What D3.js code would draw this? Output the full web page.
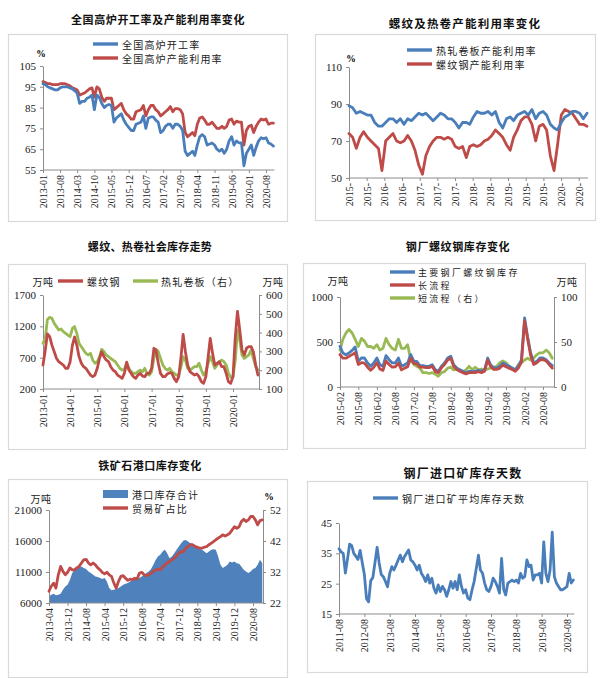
<!DOCTYPE html>
<html><head><meta charset="utf-8">
<script src="https://cdn.jsdelivr.net/npm/d3@7"></script>
<style>body{margin:0;background:#fff}</style>
</head><body>
<script>
// ---------- DATA ----------
// Panel 1: 全国高炉开工率 / 产能利用率 (monthly from 2013-01)
const p1Start = [2013, 0];
const p1Ticks = ["2013-01","2013-08","2014-03","2014-10","2015-05","2015-12","2016-07","2017-02","2017-09","2018-04","2018-11","2019-06","2020-01","2020-08"];
const p1Util = [96.5,96,95,94.5,94,93.5,93.5,94.5,95,95,95,94.5,
  94,93,92,87,88,88,89.5,90,91,84,91,90,
  87,85,86,86.5,86,78,80,81,82,79,77,75.5,
  74,74,77,77.5,78,81,75,80,80.5,80.5,79,78,
  73,74,76,77,77,75,77,77,76,74,64,62,
  63,64,62,67,71,72,71,67,67.5,68,67,65,
  64,65,63,65,69,71,67,69,68,68,57,63,
  65,67,62,66,69,70.5,70,70.5,68,67.5,66.5];
const p1Cap = [97.5,97,96.5,96.5,96,96,96,96.5,96.5,96.5,96,95.5,
  94.5,94,93.5,91,91.5,92,93,94,94.5,90,95,94,
  90,88,89.5,89.5,89.5,84,85,86,87,84,82,81,
  79.5,79.5,83,83.5,84,86,81,84,86,86,84,83,
  81,82,83,84,85.5,83,84.5,84.5,84,82,73,71,
  72,73,71.5,77,80,80.5,79,77,77,78,76.5,75,
  75,76,75,76,79,79.5,77,78.5,78,78,67,74,
  76,76.5,73,76,78,79.5,79,79.5,77,77.5,77.5];

// Panel 2: 热轧卷板 / 螺纹钢 产能利用率 (monthly from 2015-06)
const p2Start = [2015, 5];
const p2TickStepDays = 147;
const p2TickCount = 14;
const p2Hrc = [89,88,85,86,85,84,84,80,78,78,
  80,82,82,80,82,79,82,81,83,85,
  84,85,83,81,83,85,84,82,82,80,
  77,80,80,79,83,86,85,85,86,84,
  86,80,77,82,83,81,84,85,86,84,
  87,82,85,86,84,79,77,76,80,83,
  84,86,86,85,82,85];
const p2Rebar = [74,72,66,72,75,72,70,68,66,54,
  70,72,74,70,69,70,73,70,65,57,
  52,62,67,70,72,72,71,72,71,67,
  66,67,61,67,68,67,68,70,71,73,
  76,74,72,68,65,72,76,81,83,83,
  79,70,78,79,76,62,54,68,84,87,
  86,85,82,79,79,78];

// Panel 3: 社会库存 (monthly from 2013-01)
const p3Start = [2013, 0];
const p3Ticks = ["2013-01","2014-01","2015-01","2016-01","2017-01","2018-01","2019-01","2020-01"];
const p3Rebar = [583,822,1080,1035,900,795,690,636,610,583,530,530,
  636,900,1030,900,716,610,556,530,476,423,397,423,
  530,690,795,716,663,636,556,503,476,423,397,370,
  450,630,503,450,397,370,423,450,407,397,450,450,
  530,850,822,610,450,397,397,440,460,450,370,317,
  397,716,1070,795,583,476,450,423,440,397,317,290,
  397,716,1008,769,583,610,636,556,556,450,317,290,
  397,1035,1440,1141,822,743,850,876,876,795,583,423];
const p3Hrc = [343,370,470,481,476,449,432,414,419,405,396,387,
  378,423,432,396,343,325,307,290,281,290,254,237,
  245,272,311,299,281,272,263,254,245,228,210,201,
  205,237,210,192,183,183,192,201,192,210,183,174,
  192,263,311,299,263,228,210,201,210,192,183,174,
  174,219,272,254,210,201,210,219,219,237,201,174,
  192,237,272,245,210,228,245,254,245,228,183,162,
  166,254,414,361,281,263,272,281,307,263,219,201];

// Panel 4: 钢厂螺纹钢库存 (monthly from 2015-02)
const p4Start = [2015, 1];
const p4Ticks = ["2015-02","2015-08","2016-02","2016-08","2017-02","2017-08","2018-02","2018-08","2019-02","2019-08","2020-02","2020-08"];
const p4Total = [452,378,359,378,407,444,285,322,322,267,230,
  267,322,248,230,348,304,267,267,322,230,248,267,
  360,285,285,237,237,230,230,248,193,174,230,267,
  322,341,248,211,193,174,156,174,174,174,185,174,
  193,322,248,211,211,230,267,248,230,211,193,230,
  304,767,563,378,267,285,322,322,304,267,237];
const p4Long = [360,320,320,340,360,380,250,270,265,220,185,
  220,270,200,185,290,250,220,225,265,190,210,225,
  320,260,260,220,220,215,215,230,170,160,215,250,
  300,320,230,195,175,160,145,160,160,160,170,160,
  175,300,230,195,195,210,245,225,210,195,175,210,
  280,735,540,350,250,270,300,305,290,250,210];
const p4Short = [41,53,60,64,60,53,45,54,51,45,45,
  43,47,41,43,54,47,43,41,53,43,43,47,
  30,25,23,21,16,16,15,16,14,12,16,17,
  21,22,19,20,19,17,19,23,19,22,19,20,
  19,20,21,22,23,27,29,27,23,21,19,25,
  27,30,32,30,32,36,38,38,41,38,32];

// Panel 5: 铁矿石港口库存 (monthly from 2013-04)
const p5Start = [2013, 3];
const p5Ticks = ["2013-04","2013-12","2014-08","2015-04","2015-12","2016-08","2017-04","2017-12","2018-08","2019-04","2019-12","2020-08"];
const p5Port = [7070,7340,7500,7230,7340,7500,8140,8680,8950,
  9750,10820,11360,11630,11790,11890,11630,11470,11090,10820,10550,10290,
  10180,10020,9860,10020,9480,8410,8040,8140,8250,8410,8680,8950,
  9110,9210,9480,9750,10020,9860,10020,10290,10550,10820,11090,11470,
  12160,12960,13500,13770,14300,14570,14040,13230,13500,14040,14570,15110,
  15640,16070,16180,15910,15640,15480,15380,15110,14840,14570,14300,14040,
  14300,14570,14680,14570,13500,12160,11630,11890,12160,12700,12540,12700,
  12430,12320,11890,11360,11090,10820,11090,11470,11630,12160,12960,12430];
const p5Trade = [25.8,27.4,28.4,26.8,31.1,33.8,32.2,31.1,31.9,
  33.3,32.7,32.7,33.3,33.8,34.9,35.9,36.1,34.9,34.3,34.9,34.3,
  33.3,32.7,31.9,31.4,31.9,31.1,30.6,28.4,26.8,29.0,30.6,30.8,
  30.0,29.3,29.7,29.5,30.0,29.7,31.6,31.9,31.1,30.8,31.1,31.6,
  32.2,32.7,32.9,32.7,33.6,34.3,34.9,35.4,35.9,36.5,37.2,38.1,
  38.6,38.6,39.7,40.2,40.8,40.8,40.2,40.0,39.7,39.7,40.0,40.2,
  40.8,41.3,41.8,42.4,42.9,43.4,44.0,43.6,44.0,44.5,45.6,46.6,
  46.1,46.6,48.3,49.0,48.3,48.8,49.9,49.9,48.8,47.2,48.6,48.8];

// Panel 6: 钢厂进口矿平均库存天数 (monthly from 2011-08)
const p6Start = [2011, 7];
const p6Ticks = ["2011-08","2012-08","2013-08","2014-08","2015-08","2016-08","2017-08","2018-08","2019-08","2020-08"];
const p6Days = [36.5,35.5,35,28.5,33,
  38,37.5,35,34,33,36,32,28,20,19,26,27,
  32,37,32,28,27.3,25.7,24,28.4,30.6,29.5,31.1,32.8,
  34.4,32.2,33.9,35,36.1,32.8,32.2,31.1,29.5,31.1,28.4,27.3,
  25.7,27.9,25.2,26.8,23.5,21.9,24.6,22.4,24.1,23,20.8,23,
  25.7,23.5,25.7,23,27.9,24.1,21.9,23,20.2,19.7,23,25.7,
  30.1,34.4,29.5,28.4,25.2,23,22.4,24.1,26.8,25.7,24.1,21.9,
  33.3,23,21.3,25.2,25.7,26.2,25.7,26.2,25.2,28.4,26.8,27.3,
  32.8,30.6,31.1,26.2,27.9,27.9,28.4,25.2,38.8,28.4,25.7,29.5,
  42,27.3,25.2,24.1,23,23,23.5,24.1,28.4,25.2,26.2];

// ---------- STYLE ----------
const BLUE = "#4A7EBB", RED = "#BE4B48", GREEN = "#98B954", AREA = "#4F81BD";
const SERIF = "'Liberation Serif','Times New Roman',serif";
const CJK = "'Noto Sans CJK SC','Noto Sans',sans-serif";
const AXIS = "#8c8c8c";
const LW = 2.8;

const svg = d3.select("body").append("svg").attr("width", 600).attr("height", 678);
svg.append("rect").attr("width", 600).attr("height", 678).attr("fill", "#fff");

const parseYM = d3.timeParse("%Y-%m");
const monthly = (start, arr) => arr.map((v, i) => ({ d: new Date(start[0], start[1] + i, 1), v }));

function frame(x0, y0, x1, y1) {
  svg.append("rect").attr("x", x0 + 0.5).attr("y", y0 + 0.5).attr("width", x1 - x0).attr("height", y1 - y0)
    .attr("fill", "none").attr("stroke", "#d9d9d9").attr("stroke-width", 1.2);
}
function title(txt, cx, cy, size, ls) {
  svg.append("text").attr("x", cx).attr("y", cy).attr("text-anchor", "middle").attr("dominant-baseline", "central")
    .style("font-family", CJK).style("font-weight", 700).style("font-size", size + "px")
    .style("letter-spacing", ls + "px").attr("fill", "#111").text(txt);
}
function label(txt, x, y, anchor, size, ls) {
  svg.append("text").attr("x", x).attr("y", y).attr("text-anchor", anchor || "start").attr("dominant-baseline", "central")
    .style("font-family", CJK).style("font-size", (size || 10) + "px").style("letter-spacing", (ls == null ? 1.2 : ls) + "px")
    .attr("fill", "#222").text(txt);
}
function yAxis(scale, x, ticks, side, fs) {
  const ax = (side === "right" ? d3.axisRight(scale) : d3.axisLeft(scale))
    .tickValues(ticks).tickFormat(d3.format("d")).tickSize(3).tickSizeOuter(0).tickPadding(4);
  const g = svg.append("g").attr("transform", `translate(${x},0)`).call(ax);
  g.select(".domain").attr("stroke", AXIS);
  g.selectAll(".tick line").attr("stroke", AXIS);
  g.selectAll("text").style("font-family", SERIF).style("font-size", (fs || 11) + "px").attr("fill", "#222");
  return g;
}
function xAxis(scale, y, tickDates, fmt, x0, x1) {
  const ax = d3.axisBottom(scale).tickValues(tickDates).tickFormat(fmt).tickSize(3).tickSizeOuter(0);
  const g = svg.append("g").attr("transform", `translate(0,${y})`).call(ax);
  g.select(".domain").remove();
  g.append("line").attr("x1", x0).attr("x2", x1).attr("stroke", AXIS);
  g.selectAll(".tick line").attr("stroke", AXIS);
  g.selectAll("text").attr("transform", "rotate(-90)").attr("x", -5).attr("y", 0).attr("dy", "0.35em")
    .style("text-anchor", "end").style("font-family", SERIF).style("font-size", "10px").attr("fill", "#222");
  return g;
}
function line(data, x, y, color, w) {
  svg.append("path").datum(data).attr("fill", "none").attr("stroke", color).attr("stroke-width", w || LW)
    .attr("stroke-linejoin", "round").attr("stroke-linecap", "round")
    .attr("d", d3.line().x(d => x(d.d)).y(d => y(d.v)));
}
function legLine(x, y, color) {
  svg.append("line").attr("x1", x).attr("x2", x + 25).attr("y1", y).attr("y2", y)
    .attr("stroke", color).attr("stroke-width", 3.4);
}
function pct(x, y) {
  svg.append("text").attr("x", x).attr("y", y).attr("text-anchor", "middle").attr("dominant-baseline", "central")
    .style("font-family", SERIF).style("font-size", "9.5px").style("font-weight", 700).text("%");
}
const ymFmt = d3.timeFormat("%Y-%m");

// ---------- PANEL 1 ----------
{
  frame(8, 34, 287, 221);
  title("全国高炉开工率及产能利用率变化", 158, 19, 11, 0.6);
  const x = d3.scaleTime().domain([parseYM("2013-01"), parseYM("2020-08")]).range([43, 266]);
  const y = d3.scaleLinear().domain([55, 105]).range([170, 66]);
  yAxis(y, 43, [55, 65, 75, 85, 95, 105], "left", 11);
  const dU = monthly(p1Start, p1Util), dC = monthly(p1Start, p1Cap);
  xAxis(x, 170, p1Ticks.map(parseYM), ymFmt, 43, x(dU[dU.length - 1].d) + 1);
  line(dC, x, y, RED);
  line(dU, x, y, BLUE);
  legLine(93, 44, BLUE); label("全国高炉开工率", 122, 44);
  legLine(93, 58, RED); label("全国高炉产能利用率", 122, 58);
  pct(41, 54);
}

// ---------- PANEL 2 ----------
{
  frame(315, 34, 595, 220);
  title("螺纹及热卷产能利用率变化", 465, 23, 11.5, 1.2);
  const s = new Date(p2Start[0], p2Start[1], 1);
  const e = new Date(p2Start[0], p2Start[1] + p2Hrc.length - 1, 1);
  const x = d3.scaleTime().domain([s, e]).range([349, 587]);
  const y = d3.scaleLinear().domain([50, 110]).range([178, 67]);
  yAxis(y, 349, [50, 70, 90, 110], "left", 11);
  const ticks = d3.range(p2TickCount).map(k => d3.timeDay.offset(s, k * p2TickStepDays));
  xAxis(x, 178, ticks, d3.timeFormat("%Y-"), 349, 588);
  line(monthly(p2Start, p2Rebar), x, y, RED);
  line(monthly(p2Start, p2Hrc), x, y, BLUE);
  legLine(407, 50, BLUE); label("热轧卷板产能利用率", 436, 50);
  legLine(407, 64, RED); label("螺纹钢产能利用率", 436, 64);
  pct(351, 59);
}

// ---------- PANEL 3 ----------
{
  frame(8, 264, 287, 449);
  title("螺纹、热卷社会库存走势", 150, 246, 11, 0.3);
  const x = d3.scaleTime().domain([parseYM("2013-01"), parseYM("2020-01")]).range([43, 233]);
  const yL = d3.scaleLinear().domain([200, 1700]).range([389, 295]);
  const yR = d3.scaleLinear().domain([100, 600]).range([389, 295]);
  yAxis(yL, 43, [200, 700, 1200, 1700], "left", 11);
  yAxis(yR, 259, [100, 200, 300, 400, 500, 600], "right", 11);
  xAxis(x, 389, p3Ticks.map(parseYM), ymFmt, 43, 259);
  line(monthly(p3Start, p3Hrc), x, yR, GREEN);
  line(monthly(p3Start, p3Rebar), x, yL, RED);
  label("万吨", 43, 281, "middle", 10, 0.5);
  legLine(58, 281, RED); label("螺纹钢", 87, 281);
  legLine(133, 281, GREEN); label("热轧卷板（右）", 161, 281);
  label("万吨", 273, 281, "middle", 10, 0.5);
}

// ---------- PANEL 4 ----------
{
  frame(303, 263, 585, 448);
  title("钢厂螺纹钢库存变化", 458, 246, 11, 0.6);
  const x = d3.scaleTime().domain([parseYM("2015-02"), parseYM("2020-08")]).range([340, 543]);
  const yL = d3.scaleLinear().domain([0, 1000]).range([387, 297]);
  const yR = d3.scaleLinear().domain([0, 100]).range([387, 297]);
  yAxis(yL, 340, [0, 500, 1000], "left", 11);
  yAxis(yR, 554, [0, 50, 100], "right", 11);
  xAxis(x, 387, p4Ticks.map(parseYM), ymFmt, 340, 554);
  line(monthly(p4Start, p4Short), x, yR, GREEN);
  line(monthly(p4Start, p4Total), x, yL, BLUE);
  line(monthly(p4Start, p4Long), x, yL, RED);
  legLine(390, 272, BLUE); label("主要钢厂螺纹钢库存", 418, 272, "start", 9, 2.3);
  legLine(390, 285, RED); label("长流程", 418, 285, "start", 9, 2.3);
  legLine(390, 298, GREEN); label("短流程（右）", 418, 298, "start", 9, 2.3);
  label("万吨", 338, 280, "middle", 10, 0.5);
  label("万吨", 567, 281, "middle", 10, 0.5);
}

// ---------- PANEL 5 ----------
{
  frame(8, 479, 287, 677);
  title("铁矿石港口库存变化", 150, 465, 11, 0.5);
  const x = d3.scaleTime().domain([parseYM("2013-04"), parseYM("2020-08")]).range([49, 253]);
  const yL = d3.scaleLinear().domain([6000, 21000]).range([603, 510]);
  const yR = d3.scaleLinear().domain([22, 52]).range([603, 510]);
  const dP = monthly(p5Start, p5Port);
  svg.append("path").datum(dP).attr("fill", AREA)
    .attr("d", d3.area().x(d => x(d.d)).y0(yL(6000)).y1(d => yL(d.v)));
  yAxis(yL, 49, [6000, 11000, 16000, 21000], "left", 11);
  yAxis(yR, 263, [22, 32, 42, 52], "right", 11);
  xAxis(x, 603, p5Ticks.map(parseYM), ymFmt, 49, 263);
  line(monthly(p5Start, p5Trade), x, yR, RED);
  svg.append("rect").attr("x", 103).attr("y", 490).attr("width", 25).attr("height", 8).attr("fill", AREA);
  label("港口库存合计", 132, 494);
  legLine(103, 508, RED); label("贸易矿占比", 132, 508);
  label("万吨", 41, 498, "middle", 10, 0.5);
  pct(269, 497);
}

// ---------- PANEL 6 ----------
{
  frame(307, 481, 587, 672);
  title("钢厂进口矿库存天数", 463, 472, 12, 1.2);
  const x = d3.scaleTime().domain([parseYM("2011-08"), parseYM("2020-08")]).range([339, 567]);
  const y = d3.scaleLinear().domain([15, 45]).range([614, 523]);
  yAxis(y, 339, [15, 25, 35, 45], "left", 11);
  const dD = monthly(p6Start, p6Days);
  xAxis(x, 614, p6Ticks.map(parseYM), ymFmt, 339, x(dD[dD.length - 1].d) + 1);
  line(dD, x, y, BLUE);
  legLine(373, 498, BLUE); label("钢厂进口矿平均库存天数", 402, 498);
}
</script>
</body></html>
